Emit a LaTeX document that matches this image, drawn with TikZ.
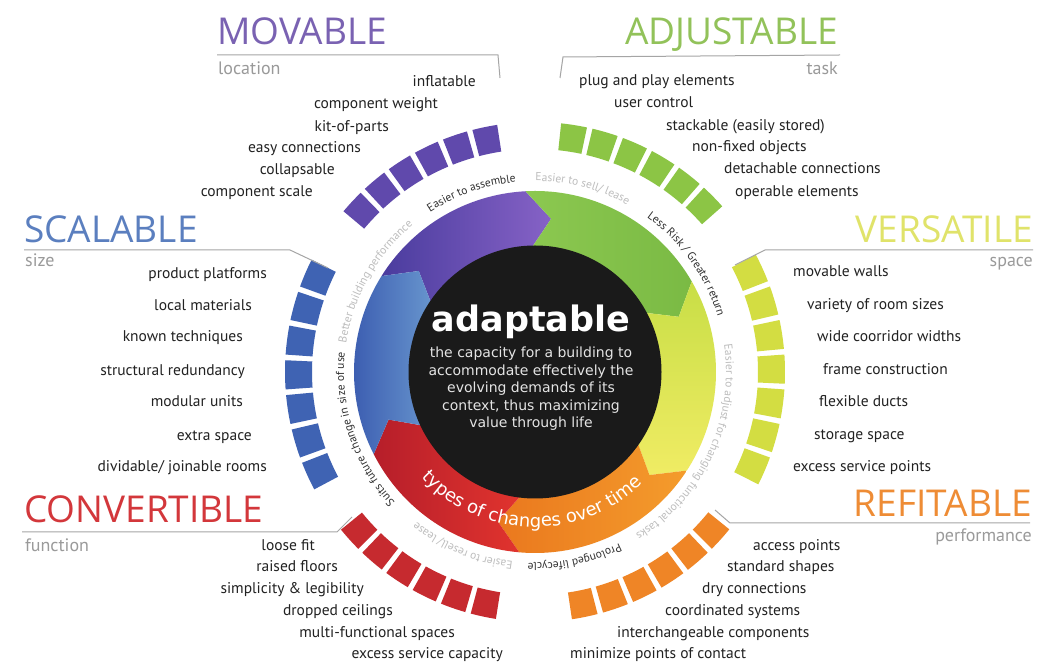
\documentclass[tikz,border=0pt]{standalone}
\usepackage{fontspec}
\setmainfont{PT Sans}
\newfontfamily\titlefont{Open Sans}
\newfontfamily\centerfont{DejaVu Sans}
\usetikzlibrary{decorations.text}

\definecolor{movcol}{HTML}{7A62B2}
\definecolor{adjcol}{HTML}{92C25A}
\definecolor{scacol}{HTML}{5B7FBF}
\definecolor{vercol}{HTML}{E0E36A}
\definecolor{concol}{HTML}{D3373B}
\definecolor{refcol}{HTML}{EE8C35}
\definecolor{movblk}{HTML}{6049AC}
\definecolor{adjblk}{HTML}{8CC545}
\definecolor{verblk}{HTML}{D3DD42}
\definecolor{scablk}{HTML}{3F63B3}
\definecolor{conblk}{HTML}{C62A2F}
\definecolor{refblk}{HTML}{EF8526}
\definecolor{subgray}{HTML}{9A9A9A}
\definecolor{linegray}{HTML}{A5A5A5}
\definecolor{itemtxt}{HTML}{222222}
\definecolor{ringdark}{HTML}{303030}
\definecolor{ringlight}{HTML}{BDBDBD}
\definecolor{disc}{HTML}{1A1A1A}
\definecolor{desctxt}{HTML}{E4E4E4}

\newcommand\ringfont{\fontsize{11.5}{11.5}\selectfont}
\newcommand\typesfont{\centerfont\fontsize{18}{18}\selectfont}

\begin{document}
\begin{tikzpicture}[x=1pt,y=1pt,
    title/.style={font=\titlefont\fontsize{37}{37}\selectfont, inner sep=0pt},
    sub/.style={font=\fontsize{18}{18}\selectfont, text=subgray, inner sep=0pt},
    item/.style={font=\fontsize{15.5}{15.5}\selectfont, text=itemtxt, inner sep=0pt},
    titleline/.style={draw=linegray, line width=1pt},
    ringtxt/.style={decorate, decoration={text along path, text align=center}},
    purseg/.style={left color={rgb,255:red,74;green,60;blue,158}, right color={rgb,255:red,134;green,98;blue,198}},
    grnseg/.style={left color={rgb,255:red,140;green,200;blue,80}, right color={rgb,255:red,122;green,186;blue,68}},
    yelseg/.style={top color={rgb,255:red,200;green,222;blue,70}, bottom color={rgb,255:red,240;green,236;blue,100}},
    orgseg/.style={left color={rgb,255:red,234;green,120;blue,30}, right color={rgb,255:red,244;green,156;blue,44}},
    redseg/.style={left color={rgb,255:red,182;green,30;blue,42}, right color={rgb,255:red,226;green,52;blue,46}},
    bluseg/.style={left color={rgb,255:red,56;green,88;blue,174}, right color={rgb,255:red,104;green,150;blue,206}}]
    \useasboundingbox (0,0) rectangle (1037,664);
    \fill[white] (0,0) rectangle (1037,664);
    % centre of the wheel
    \coordinate (c) at (535,292);
    \begin{scope}[shift={(c)}]
        % coloured ring, each part ends in a tip pointing clockwise
        \foreach \a/\b/\seg in {148/93/purseg, 93/30/grnseg, 30/-33/yelseg, -33/-95/orgseg, -95/-153/redseg, 207/148/bluseg}
        {
            \shade[\seg] (\a:181) arc[start angle=\a, end angle=\b, radius=181] -- ({\b-9}:154) -- (\b:120)
                arc[start angle=\b, end angle=\a, radius=120] -- ({\a-9}:154) -- cycle;
        }
        % black disc in the middle
        \fill[disc] (0,0) circle (126.5);
        % blocks round the ring
        \foreach \a/\n/\s/\col in {140/6/7.1/movblk, 84/6/7.3/adjblk, 28/7/8/verblk, 208/7/8/scablk, 261/6/7.2/conblk, 321/6/7.3/refblk}
        \foreach \i in {1,...,\n}
        {
            \pgfmathsetmacro\st{\a-(\i-1)*\s}
            \pgfmathsetmacro\en{\a-\i*\s+1.3}
            \fill[\col] (\st:223) arc[start angle=\st, end angle=\en, radius=223] -- (\en:250)
                arc[start angle=\en, end angle=\st, radius=250] -- cycle;
        }
        % labels running clockwise round the ring
        \path[ringtxt, decoration={text color=ringdark, text={|\ringfont|Easier to assemble}}] (135:191) arc[start angle=135, end angle=84, radius=191];
        \path[ringtxt, decoration={text color=ringlight, text={|\ringfont|Easier to sell/ lease}}] (102:191) arc[start angle=102, end angle=49, radius=191];
        \path[ringtxt, decoration={text color=ringdark, text={|\ringfont|Less Risk / Greater return}}] (66:191) arc[start angle=66, end angle=5, radius=191];
        \path[ringtxt, decoration={text color=ringlight, text={|\ringfont|Easier to adjust for changing functional tasks}}] (25:191) arc[start angle=25, end angle=-75, radius=191];
        \path[ringtxt, decoration={text color=ringdark, text={|\ringfont|Prolonged lifecycle}}] (-53:191) arc[start angle=-53, end angle=-103, radius=191];
        \path[ringtxt, decoration={text color=ringlight, text={|\ringfont|Easier to resell/ lease}}] (275:191) arc[start angle=275, end angle=220, radius=191];
        \path[ringtxt, decoration={text color=ringdark, text={|\ringfont|Suits future change in size of use}}] (232:191) arc[start angle=232, end angle=165, radius=191];
        \path[ringtxt, decoration={text color=ringlight, text={|\ringfont|Better building performance}}] (181:191) arc[start angle=181, end angle=120, radius=191];
        % text along the bottom of the ring
        \path[ringtxt, decoration={text color=white, text={|\typesfont|types of changes over time}}] (211:155) arc[start angle=211, end angle=326, radius=155];
    \end{scope}
    % centre texts
    \node[anchor=base, text=white, font=\centerfont\bfseries\fontsize{35}{35}\selectfont, inner sep=0pt] (adapt) at (531,332) {adaptable};
    \node[anchor=north, align=center, text=desctxt, font=\centerfont\fontsize{14}{17.5}\selectfont, inner sep=0pt] (desc) at (531,317)
        {the capacity for a building to\\accommodate effectively the\\evolving demands of its\\context, thus maximizing\\value through life};
    % MOVABLE
    \node[title, text=movcol, anchor=base west] (mov) at (217,619) {MOVABLE};
    \draw[titleline] (217,609) -- (498,609) -- (500,586);
    \node[sub, anchor=base west] (movsub) at (218,589) {location};
    \foreach \t/\x/\y [count=\i] in {inflatable/476/577, component weight/438/555, kit-of-parts/389/532, easy connections/361/511, collapsable/335/489, component scale/313/467}
        \node[item, anchor=base east] (mov\i) at (\x,\y) {\t};
    % ADJUSTABLE
    \node[title, text=adjcol, anchor=base east] (adj) at (838,619) {ADJUSTABLE};
    \draw[titleline] (560,586) -- (563,607) -- (840,609);
    \node[sub, anchor=base east] (adjsub) at (838,589) {task};
    \foreach \t/\x/\y [count=\i] in {plug and play elements/579/578, user control/614/556, stackable (easily stored)/666/533, non-fixed objects/692/512, detachable connections/724/490, operable elements/735/467}
        \node[item, anchor=base west] (adj\i) at (\x,\y) {\t};
    % SCALABLE
    \node[title, text=scacol, anchor=base west] (sca) at (24,421) {SCALABLE};
    \draw[titleline] (24,414) -- (290,414) -- (328,396);
    \node[sub, anchor=base west] (scasub) at (25,397) {size};
    \foreach \t/\x/\y [count=\i] in {product platforms/267/385, local materials/252/353, known techniques/243/322, structural redundancy/245/288, modular units/243/257, extra space/252/223, {dividable/ joinable rooms}/267/192}
        \node[item, anchor=base east] (sca\i) at (\x,\y) {\t};
    % VERSATILE
    \node[title, text=vercol, anchor=base east] (ver) at (1033,421) {VERSATILE};
    \draw[titleline] (735,399) -- (765,414) -- (1033,414);
    \node[sub, anchor=base east] (versub) at (1033,397) {space};
    \foreach \t/\x/\y [count=\i] in {movable walls/793/387, variety of room sizes/807/354, wide coorridor widths/817/322, frame construction/823/289, flexible ducts/819/257, storage space/814/224, excess service points/793/192}
        \node[item, anchor=base west] (ver\i) at (\x,\y) {\t};
    % CONVERTIBLE
    \node[title, text=concol, anchor=base west] (con) at (24,141) {CONVERTIBLE};
    \draw[titleline] (22,132) -- (337,132) -- (352,147);
    \node[sub, anchor=base west] (consub) at (25,112) {function};
    \foreach \t/\x/\y [count=\i] in {loose fit/315/113, raised floors/338/92, simplicity \& legibility/364/70, dropped ceilings/393/48, multi-functional spaces/455/26, excess service capacity/503/5}
        \node[item, anchor=base east] (con\i) at (\x,\y) {\t};
    % REFITABLE
    \node[title, text=refcol, anchor=base east] (ref) at (1032,147) {REFITABLE};
    \draw[titleline] (715,154) -- (730,141) -- (1030,141);
    \node[sub, anchor=base east] (refsub) at (1032,122) {performance};
    \foreach \t/\x/\y [count=\i] in {access points/753/113, standard shapes/727/92, dry connections/702/70, coordinated systems/665/48, interchangeable components/617/26, minimize points of contact/570/5}
        \node[item, anchor=base west] (ref\i) at (\x,\y) {\t};
\end{tikzpicture}
\end{document}
